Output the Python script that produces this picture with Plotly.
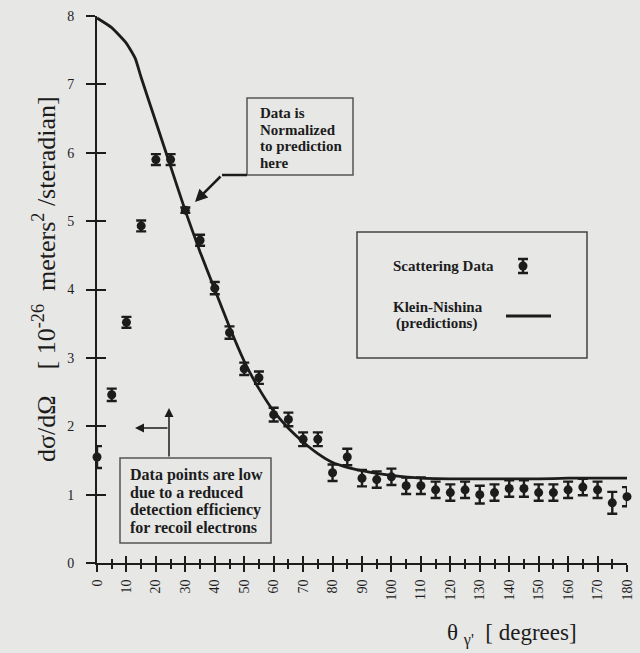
import plotly.graph_objects as go

# ---- data ----
theta_deg = [0, 5, 10, 15, 20, 25, 30, 35, 40, 45, 50, 55, 60, 65, 70, 75, 80, 85, 90,
             95, 100, 105, 110, 115, 120, 125, 130, 135, 140, 145, 150, 155, 160, 165,
             170, 175, 180]
scatter_data = [1.55, 2.46, 3.52, 4.93, 5.90, 5.90, 5.16, 4.72, 4.02, 3.37, 2.84, 2.71,
                2.17, 2.10, 1.81, 1.81, 1.32, 1.55, 1.24, 1.22, 1.26, 1.13, 1.13, 1.07,
                1.03, 1.07, 1.00, 1.03, 1.09, 1.09, 1.03, 1.03, 1.07, 1.11, 1.07, 0.88,
                0.97]
scatter_err = [0.16, 0.09, 0.08, 0.08, 0.08, 0.08, 0.04, 0.08, 0.09, 0.09, 0.09, 0.09,
               0.10, 0.10, 0.10, 0.10, 0.12, 0.12, 0.12, 0.12, 0.12, 0.12, 0.12, 0.12,
               0.12, 0.12, 0.13, 0.12, 0.12, 0.12, 0.12, 0.12, 0.12, 0.12, 0.12, 0.16,
               0.14]

kn_theta = [0, 5, 10, 13, 15, 20, 25, 30, 35, 40, 45, 50, 55, 60, 65, 70, 75, 80, 85, 90,
            95, 100, 110, 120, 130, 140, 150, 160, 170, 180]
kn_pred = [7.97, 7.83, 7.60, 7.38, 7.10, 6.45, 5.80, 5.15, 4.55, 4.00, 3.45, 2.95, 2.55,
           2.22, 1.97, 1.77, 1.60, 1.47, 1.40, 1.35, 1.31, 1.28, 1.24, 1.23, 1.23, 1.23,
           1.23, 1.24, 1.24, 1.24]

x_ticks = [0, 10, 20, 30, 40, 50, 60, 70, 80, 90, 100, 110, 120, 130, 140, 150, 160, 170, 180]
y_ticks = [0, 1, 2, 3, 4, 5, 6, 7, 8]

# ---- layout geometry ----
W, H = 640, 653
L, R, T, B = 97, 13, 16, 90
PW, PH = W - L - R, H - T - B
BG = "#e7e7e6"
INK = "#1c1c1c"
SERIF = "Liberation Serif, Times New Roman, serif"


def px(x):
    return (x - L) / PW


def py(y):
    return (H - B - y) / PH


fig = go.Figure()

fig.add_trace(go.Scatter(
    x=kn_theta, y=kn_pred, mode="lines", name="Klein-Nishina",
    line=dict(color=INK, width=2.8, shape="spline", smoothing=0.4),
    cliponaxis=False, showlegend=False))

fig.add_trace(go.Scatter(
    x=theta_deg, y=scatter_data, mode="markers", name="Scattering Data",
    marker=dict(color=INK, size=9, symbol="circle"),
    error_y=dict(type="data", array=scatter_err, color=INK, thickness=2.4, width=5),
    cliponaxis=False, showlegend=False))

# invisible trace to carry the overlay axes (inside ticks)
fig.add_trace(go.Scatter(x=kn_theta, y=kn_pred, xaxis="x2", yaxis="y2", mode="lines",
                         line=dict(width=0), opacity=0, hoverinfo="skip", showlegend=False))

# legend swatch for scattering data on a tiny own axis
fig.add_trace(go.Scatter(x=[0], y=[0], xaxis="x3", yaxis="y3", mode="markers",
                         marker=dict(color=INK, size=9),
                         error_y=dict(type="data", array=[0.7], color=INK, thickness=2.4, width=5),
                         cliponaxis=False, showlegend=False, hoverinfo="skip"))

axis_common = dict(showgrid=False, zeroline=False, color=INK, linecolor=INK,
                   tickcolor=INK, fixedrange=True, automargin=False)

fig.update_layout(
    width=W, height=H, autosize=False,
    margin=dict(l=L, r=R, t=T, b=B, autoexpand=False),
    paper_bgcolor=BG, plot_bgcolor=BG,
    font=dict(family=SERIF, color=INK),
    xaxis=dict(range=[0, 180], tickvals=x_ticks, ticktext=[str(v) for v in x_ticks],
               ticks="outside", ticklen=7, tickwidth=1.5, showline=True, linewidth=1.8,
               tickangle=-90, tickfont=dict(size=14, family=SERIF, color=INK),
               minor=dict(dtick=5, tick0=0, ticks="outside", ticklen=4, tickwidth=1.5,
                          tickcolor=INK),
               ticklabelstandoff=2, **axis_common),
    yaxis=dict(range=[0, 8], tickvals=y_ticks, ticks="outside", ticklen=9, tickwidth=1.5,
               showline=True, linewidth=1.8, tickfont=dict(size=14, family=SERIF, color=INK),
               ticklabelstandoff=9, **axis_common),
    xaxis2=dict(range=[0, 180], overlaying="x", anchor="y", side="bottom",
                tickvals=x_ticks, ticks="inside", ticklen=7, tickwidth=1.5,
                showticklabels=False, showline=False,
                minor=dict(dtick=5, tick0=0, ticks="inside", ticklen=4, tickwidth=1.5,
                           tickcolor=INK),
                **axis_common),
    yaxis2=dict(range=[0, 8], overlaying="y", anchor="x", side="left",
                tickvals=y_ticks, ticks="inside", ticklen=9, tickwidth=1.5,
                showticklabels=False, showline=False, **axis_common),
    xaxis3=dict(domain=[px(513), px(533)], range=[-1, 1], visible=False, anchor="y3",
                fixedrange=True),
    yaxis3=dict(domain=[py(276), py(256)], range=[-1, 1], visible=False, anchor="x3",
                fixedrange=True),
)

shapes = []
# normalization note box
shapes.append(dict(type="rect", xref="paper", yref="paper", x0=px(247), x1=px(353),
                   y0=py(175), y1=py(98), line=dict(color="#555", width=1.5)))
# low-points note box
shapes.append(dict(type="rect", xref="paper", yref="paper", x0=px(120), x1=px(271),
                   y0=py(543), y1=py(458), line=dict(color="#555", width=1.5)))
# legend box
shapes.append(dict(type="rect", xref="paper", yref="paper", x0=px(357), x1=px(587),
                   y0=py(358), y1=py(232), line=dict(color="#444", width=1.5)))
# legend sample line
shapes.append(dict(type="line", xref="paper", yref="paper", x0=px(506), x1=px(551),
                   y0=py(316), y1=py(316), line=dict(color=INK, width=2.8)))
# leader line from box to elbow
shapes.append(dict(type="line", xref="paper", yref="paper", x0=px(247), x1=px(222),
                   y0=py(175), y1=py(175), line=dict(color=INK, width=2.5)))
fig.update_layout(shapes=shapes)

ann = []


def text(x, y, s, size=15, bold=True, xanchor="left"):
    ann.append(dict(xref="paper", yref="paper", x=px(x), y=py(y), text=("<b>%s</b>" % s) if bold else s,
                    showarrow=False, xanchor=xanchor, yanchor="middle",
                    font=dict(size=size, family=SERIF, color=INK)))


for i, line in enumerate(["Data is", "Normalized", "to prediction", "here"]):
    text(258, 113 + i * 16.7, line, size=15)
for i, line in enumerate(["Data points are low", "due to a reduced",
                          "detection efficiency", "for recoil electrons"]):
    text(128, 475 + i * 17.6, line, size=16)

text(391, 266, "Scattering Data", size=15)
text(391, 307, "Klein-Nishina", size=15)
text(394, 323, "(predictions)", size=15)

# arrows
def arrow(x_tip, y_tip, x_tail, y_tail, width=1.5, size=1.0):
    ann.append(dict(xref="paper", yref="paper", x=px(x_tip), y=py(y_tip),
                    axref="pixel", ayref="pixel", ax=x_tail - x_tip, ay=y_tail - y_tip,
                    text="", showarrow=True, arrowhead=2, arrowsize=size,
                    arrowwidth=width, arrowcolor=INK))


arrow(195, 202, 222, 175, width=2.5, size=1.0)
arrow(169, 408, 169, 458, width=1.5, size=1.2)
arrow(135, 428, 169, 428, width=1.5, size=1.2)

# axis titles
ann.append(dict(xref="paper", yref="paper", x=px(44), y=py(279), textangle=-90,
                text="dσ/dΩ\u00a0\u00a0\u00a0\u00a0[ 10<sup>-26</sup>\u00a0\u00a0meters<sup>2</sup> /steradian]",
                showarrow=False, xanchor="center", yanchor="middle",
                font=dict(size=26, family=SERIF, color=INK)))
ann.append(dict(xref="paper", yref="paper", x=px(512), y=py(634),
                text="θ <sub>γ'</sub>\u00a0\u00a0[ degrees]",
                showarrow=False, xanchor="center", yanchor="middle",
                font=dict(size=23, family=SERIF, color=INK)))

fig.update_layout(annotations=ann)

fig.write_html("out.html", config={"displayModeBar": False},
               post_script="document.body.style.margin='0';document.body.style.padding='0';")
